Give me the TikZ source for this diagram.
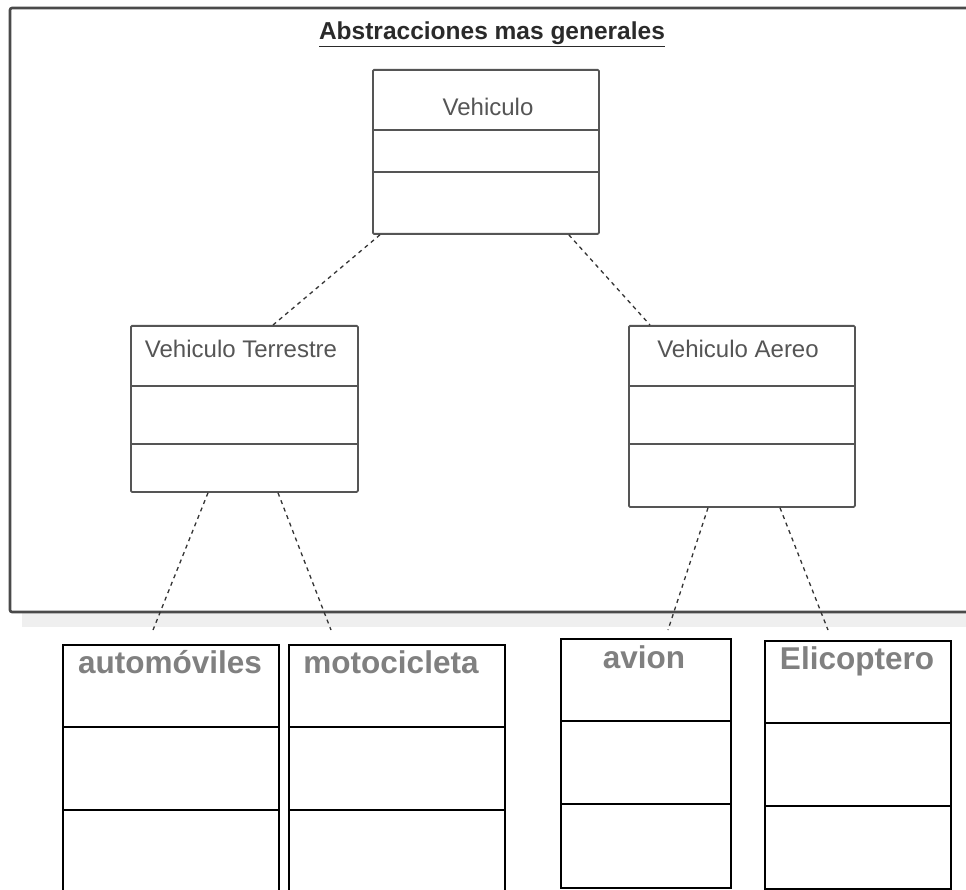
\documentclass[tikz,border=0pt]{standalone}
\usepackage{fontspec}
\setmainfont{Liberation Sans}
\definecolor{umlgray}{HTML}{555555}
\definecolor{labelgray}{HTML}{555555}
\definecolor{titlegray}{HTML}{2A2A2A}
\definecolor{namegray}{HTML}{808080}
\definecolor{framegray}{HTML}{4A4A4A}
\definecolor{shadowgray}{HTML}{EFEFEF}
\begin{document}
\begin{tikzpicture}[x=1pt,y=-1pt,
  classbox/.style={draw=umlgray, line width=1.8pt, rounded corners=1.2pt,
    inner sep=0pt, anchor=north west, fill=white},
  classline/.style={draw=umlgray, line width=1.8pt},
  objbox/.style={draw=black, line width=2.4pt, inner sep=0pt,
    anchor=north west, fill=white},
  objline/.style={draw=black, line width=2.4pt},
  classname/.style={font=\fontsize{24}{28}\selectfont, text=labelgray,
    anchor=base, inner sep=0pt},
  objname/.style={font=\fontsize{31.5}{36}\selectfont\bfseries, text=namegray,
    anchor=base, inner sep=0pt},
  conn/.style={draw=black!80, line width=1.3pt, dash pattern=on 4pt off 4pt},
  frameline/.style={draw=framegray, line width=2.6pt, rounded corners=2pt}]

\clip (0,0) rectangle (966,890);
\fill[white] (0,0) rectangle (966,890);

% package frame and its drop shadow
\fill[shadowgray] (22,613) rectangle (975,627);
\draw[frameline] (975,8) -- (10,8) -- (10,612) -- (975,612);
\node[font=\fontsize{24.5}{28}\selectfont\bfseries, text=titlegray,
  anchor=base, inner sep=0pt] (title) at (492,39.3)
  {\underline{Abstracciones mas generales}};

% general classes
\node[classbox, minimum width=226pt, minimum height=164pt] (veh) at (372,69) {};
\draw[classline] ([yshift=-61pt]veh.north west) -- ([yshift=-61pt]veh.north east);
\draw[classline] ([yshift=-103pt]veh.north west) -- ([yshift=-103pt]veh.north east);
\node[classname] (vehname) at (488,116) {Vehiculo};

\node[classbox, minimum width=227pt, minimum height=166pt] (vt) at (130,325) {};
\draw[classline] ([yshift=-61pt]vt.north west) -- ([yshift=-61pt]vt.north east);
\draw[classline] ([yshift=-119pt]vt.north west) -- ([yshift=-119pt]vt.north east);
\node[classname] (vtname) at (241,357) {Vehiculo Terrestre};

\node[classbox, minimum width=226pt, minimum height=181pt] (va) at (628,325) {};
\draw[classline] ([yshift=-61pt]va.north west) -- ([yshift=-61pt]va.north east);
\draw[classline] ([yshift=-119pt]va.north west) -- ([yshift=-119pt]va.north east);
\node[classname] (vaname) at (738,357) {Vehiculo Aereo};

% generalisation links
\draw[conn] ([xshift=8pt]veh.south west) -- ([xshift=143pt]vt.north west);
\draw[conn] ([xshift=-31pt]veh.south east) -- ([xshift=22pt]va.north west);

% concrete classes
\node[objbox, minimum width=216pt, minimum height=262pt] (auto) at (62,644) {};
\draw[objline] ([yshift=-83pt]auto.north west) -- ([yshift=-83pt]auto.north east);
\draw[objline] ([yshift=-166pt]auto.north west) -- ([yshift=-166pt]auto.north east);
\node[objname] (autoname) at (170,673) {automóviles};

\node[objbox, minimum width=216pt, minimum height=262pt] (moto) at (288,644) {};
\draw[objline] ([yshift=-83pt]moto.north west) -- ([yshift=-83pt]moto.north east);
\draw[objline] ([yshift=-166pt]moto.north west) -- ([yshift=-166pt]moto.north east);
\node[objname] (motoname) at (391,673) {motocicleta};

\node[objbox, minimum width=170pt, minimum height=249pt] (avion) at (560,638) {};
\draw[objline] ([yshift=-83pt]avion.north west) -- ([yshift=-83pt]avion.north east);
\draw[objline] ([yshift=-166pt]avion.north west) -- ([yshift=-166pt]avion.north east);
\node[objname] (avionname) at (644,668) {avion};

\node[objbox, minimum width=186pt, minimum height=248pt] (elic) at (764,640) {};
\draw[objline] ([yshift=-83pt]elic.north west) -- ([yshift=-83pt]elic.north east);
\draw[objline] ([yshift=-166pt]elic.north west) -- ([yshift=-166pt]elic.north east);
\node[objname] (elicname) at (857,669) {Elicoptero};

% links leaving the package
\coordinate (autoend) at (153,630);
\coordinate (motoend) at (331,630);
\coordinate (avionend) at (668,630);
\coordinate (elicend) at (828,630);
\draw[conn] ([xshift=78pt]vt.south west) -- (autoend);
\draw[conn] ([xshift=148pt]vt.south west) -- (motoend);
\draw[conn] ([xshift=80pt]va.south west) -- (avionend);
\draw[conn] ([xshift=152pt]va.south west) -- (elicend);
\end{tikzpicture}
\end{document}
